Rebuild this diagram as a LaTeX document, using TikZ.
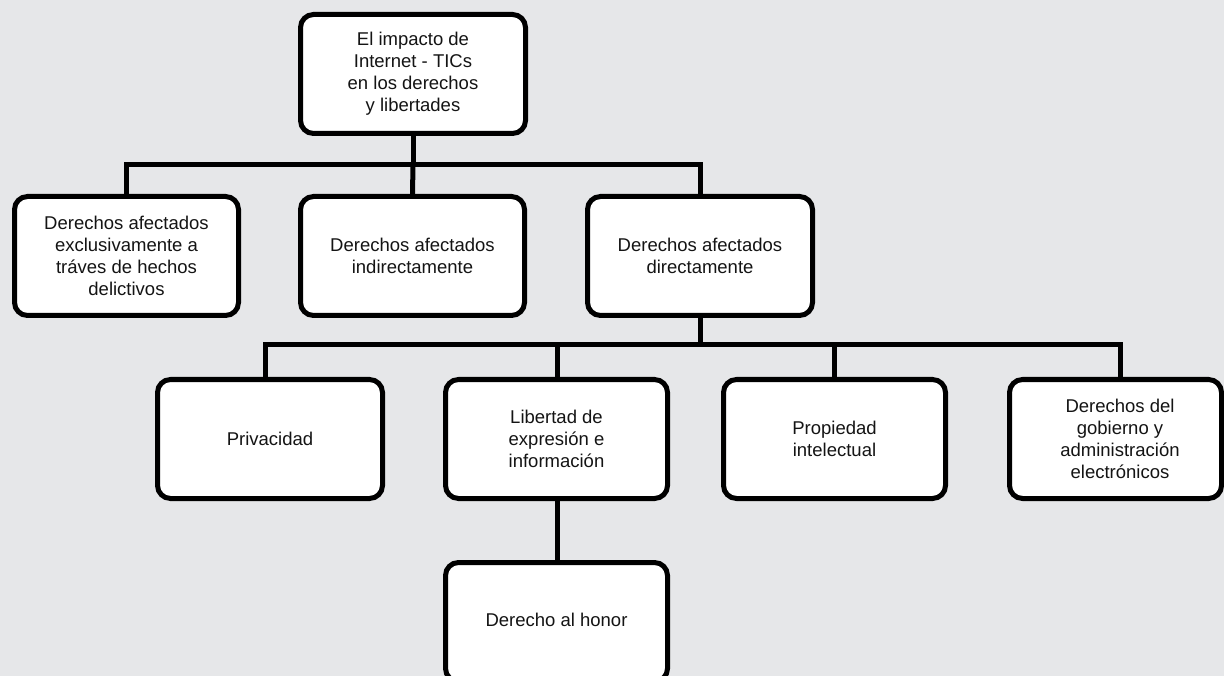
\documentclass[tikz,border=0pt]{standalone}
\usepackage{fontspec}
\setmainfont{Liberation Sans}
\begin{document}
\begin{tikzpicture}[x=1pt,y=-1pt,
  box/.style={draw=black, line width=5pt, fill=white, rounded corners=13pt,
    minimum width=225pt, minimum height=119pt, inner sep=0pt},
  lbl/.style={align=center, font=\fontsize{18.5pt}{22pt}\selectfont, text=black!92},
  conn/.style={draw=black, line width=5pt}]
\useasboundingbox (0,0) rectangle (1224,676);
\fill[fill={rgb,255:red,230;green,231;blue,233}] (0,0) rectangle (1224,676);
\begin{scope}
\clip (0,0) rectangle (1224,676);
% level 1
\node[box,lbl] (top) at (413,74) {El impacto de\\Internet - TICs\\en los derechos\\y libertades};
% level 2
\node[box,lbl, minimum width=224pt] (d1) at (126.5,256) {Derechos afectados\\exclusivamente a\\tráves de hechos\\delictivos};
\node[box,lbl, minimum width=224pt] (d2) at (412.5,256) {Derechos afectados\\indirectamente};
\node[box,lbl] (d3) at (700,256) {Derechos afectados\\directamente};
% level 3
\node[box,lbl] (priv) at (270,439) {Privacidad};
\node[box,lbl, minimum width=222pt] (lib) at (556.5,439) {Libertad de\\expresión e\\información};
\node[box,lbl, minimum width=222pt] (prop) at (834.5,439) {Propiedad\\intelectual};
\node[box, minimum width=212pt] (gov) at (1115.5,439) {};
\node[lbl] (govt) at (1120,439) {Derechos del\\gobierno y\\administración\\electrónicos};
% level 4
\node[box, minimum width=222pt] (honor) at (556.5,622) {};
\node[lbl] (honort) at (556.5,620) {Derecho al honor};
\end{scope}
% connectors
\coordinate (h1) at (413,165);
\coordinate (h2) at (700,345);
\draw[conn] (top.south) -- (h1);
\draw[conn] (d1.north) |- (h1) -| (d3.north);
\draw[conn] (h1) -- (d2.north);
\draw[conn] (d3.south) -- (h2);
\draw[conn] ([xshift=-5pt]priv.north) |- (h2) -| ([xshift=4.5pt]gov.north);
\draw[conn] ([xshift=0.5pt]lib.north) -- ([xshift=0.5pt]lib.north |- h2);
\draw[conn] (prop.north) -- (prop.north |- h2);
\draw[conn] ([xshift=0.5pt]lib.south) -- ([xshift=0.5pt]honor.north);
\end{tikzpicture}
\end{document}
